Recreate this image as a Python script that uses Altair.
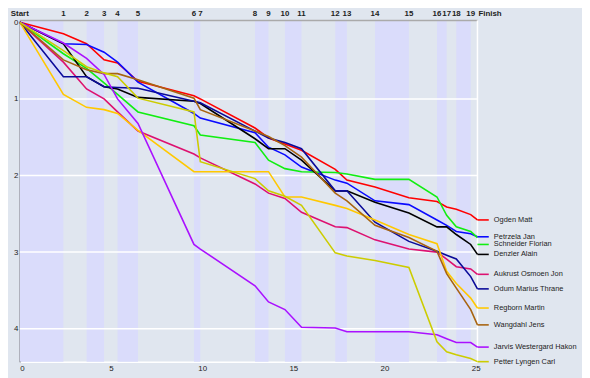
import altair as alt
import pandas as pd

# ---- data -------------------------------------------------------------
controls = ["Start", "1", "2", "3", "4", "5", "6", "7", "8", "9", "10",
            "11", "12", "13", "14", "15", "16", "17", "18", "19", "Finish"]
control_x = [0, 2.39, 3.66, 4.62, 5.36, 6.48, 9.55, 9.90, 12.90, 13.64, 14.54,
             15.45, 17.30, 17.94, 19.48, 21.34, 22.88, 23.41, 23.94, 24.73, 25.10]

runners = ["Ogden Matt", "Petrzela Jan", "Schneider Florian", "Denzler Alain",
           "Aukrust Osmoen Jon", "Odum Marius Thrane", "Regborn Martin",
           "Wangdahl Jens", "Jarvis Westergard Hakon", "Petter Lyngen Carl"]
colors = ["#ff0000", "#0a0aff", "#11ee11", "#000000", "#dd1170",
          "#0a0a99", "#ffc800", "#a86410", "#aa11ff", "#cccc00"]

ogden = [0, 0.15, 0.28, 0.49, 0.53, 0.77, 0.96, 1.00, 1.38, 1.51, 1.59,
         1.67, 1.92, 2.06, 2.15, 2.29, 2.34, 2.41, 2.44, 2.51, 2.58]
petrzela = [0, 0.28, 0.29, 0.39, 0.52, 0.78, 1.19, 1.25, 1.44, 1.63, 1.73,
            1.89, 2.06, 2.10, 2.33, 2.38, 2.58, 2.65, 2.73, 2.76, 2.80]
schneider = [0, 0.41, 0.60, 0.79, 0.94, 1.17, 1.35, 1.47, 1.57, 1.80, 1.91,
             1.95, 1.96, 1.98, 2.05, 2.05, 2.28, 2.52, 2.67, 2.73, 2.81]
denzler = [0, 0.28, 0.71, 0.84, 0.87, 0.98, 1.03, 1.06, 1.52, 1.65, 1.65,
           1.80, 2.20, 2.20, 2.35, 2.49, 2.67, 2.67, 2.77, 2.90, 3.03]
aukrust = [0, 0.52, 0.87, 1.00, 1.17, 1.42, 1.72, 1.77, 2.11, 2.23, 2.30,
           2.48, 2.67, 2.68, 2.84, 2.96, 3.00, 3.09, 3.19, 3.22, 3.29]
odum = [0, 0.71, 0.71, 0.84, 0.85, 0.86, 1.03, 1.05, 1.42, 1.51, 1.57,
        1.65, 2.20, 2.20, 2.61, 2.86, 2.99, 3.04, 3.09, 3.32, 3.48]
regborn = [0, 0.94, 1.11, 1.14, 1.19, 1.41, 1.95, 1.95, 1.95, 1.95, 2.28,
           2.28, 2.39, 2.43, 2.58, 2.77, 2.89, 3.25, 3.41, 3.60, 3.73]
wangdahl = [0, 0.49, 0.62, 0.67, 0.67, 0.75, 0.99, 1.14, 1.42, 1.49, 1.61,
            1.76, 2.23, 2.33, 2.65, 2.81, 2.99, 3.28, 3.47, 3.75, 3.95]
jarvis = [0, 0.27, 0.47, 0.68, 1.00, 1.32, 2.90, 2.96, 3.44, 3.65, 3.75,
          3.98, 3.99, 4.04, 4.04, 4.04, 4.08, 4.13, 4.18, 4.18, 4.24]
petter = [0, 0.37, 0.58, 0.66, 0.71, 0.99, 1.17, 1.82, 2.04, 2.20, 2.27,
          2.39, 3.01, 3.05, 3.11, 3.20, 4.17, 4.30, 4.34, 4.39, 4.43]

series = [ogden, petrzela, schneider, denzler, aukrust, odum, regborn,
          wangdahl, jarvis, petter]

y_ticks = [0, 1, 2, 3, 4]
x_ticks = [0, 5, 10, 15, 20, 25]

# ---- tables -----------------------------------------------------------
rows = []
for name, vals in zip(runners, series):
    for i, (cx, v) in enumerate(zip(control_x, vals)):
        rows.append({"runner": name, "x": cx, "t": v, "i": i})
lines_df = pd.DataFrame(rows)

bands_df = pd.DataFrame({
    "x": control_x[0:-1:2],
    "x2": control_x[1::2],
})

# label positions (push down to avoid overlaps)
finals = sorted([(vals[-1], name) for name, vals in zip(runners, series)])
lab_rows = []
prev = None
for v, name in finals:
    ly = v if prev is None else max(v, prev + 0.1)
    prev = ly
    lab_rows.append({"runner": name, "ly": ly})
labels_df = pd.DataFrame(lab_rows)
fin = control_x[-1]
labels_df["x1"] = fin
labels_df["x2"] = fin + 0.62
labels_df["xt"] = fin + 0.9

ctrl_df = pd.DataFrame({"x": control_x[:-1], "label": controls[:-1]})
finish_df = pd.DataFrame({"x": [control_x[-1]], "label": [controls[-1]]})
grid_df = pd.DataFrame({"t": y_ticks[1:]})

# ---- chart ------------------------------------------------------------
W, H = 464, 346
xs = alt.Scale(domain=[0, fin], nice=False, zero=False)
ys = alt.Scale(domain=[-0.025, 4.43], nice=False, zero=False, reverse=True)
cs = alt.Scale(domain=runners, range=colors)
FONT = "Liberation Sans"

bands = alt.Chart(bands_df).mark_rect(color="#dadcfb").encode(
    x=alt.X("x:Q", scale=xs,
            axis=alt.Axis(values=x_ticks, title=None, grid=False, ticks=False,
                          format="d",
                          domainColor="#ffffff", domainWidth=1.5,
                          labelFontSize=8, labelFont=FONT, labelColor="#222",
                          labelPadding=3)),
    x2="x2:Q",
    y=alt.value(0), y2=alt.value(H),
)

grid = alt.Chart(grid_df).mark_rule(color="#ffffff", strokeWidth=1.5).encode(
    y=alt.Y("t:Q", scale=ys,
            axis=alt.Axis(values=y_ticks, title=None, grid=False, ticks=False,
                          format="d",
                          domainColor="#555555", domainWidth=1.5,
                          labelFontSize=8, labelFont=FONT, labelColor="#222",
                          labelPadding=2)),
    x=alt.value(0), x2=alt.value(W),
)

top_line = alt.Chart(finish_df).mark_rule(color="#aaaaaa", strokeWidth=1.5).encode(
    x=alt.value(0), x2=alt.value(W), y=alt.value(0)
)
fin_line = alt.Chart(finish_df).mark_rule(color="#ffffff", strokeWidth=1.5).encode(
    x=alt.X("x:Q", scale=xs), y=alt.value(0), y2=alt.value(H)
)

lines = alt.Chart(lines_df).mark_line(strokeWidth=1.6).encode(
    x=alt.X("x:Q", scale=xs),
    y=alt.Y("t:Q", scale=ys),
    color=alt.Color("runner:N", scale=cs, legend=None),
    order="i:Q",
    detail="runner:N",
)

ticks = alt.Chart(labels_df).mark_rule(strokeWidth=1.6).encode(
    x=alt.X("x1:Q", scale=xs), x2="x2:Q",
    y=alt.Y("ly:Q", scale=ys),
    color=alt.Color("runner:N", scale=cs, legend=None),
)
texts = alt.Chart(labels_df).mark_text(
    align="left", baseline="middle", fontSize=7.5, font=FONT, color="#222222"
).encode(
    x=alt.X("xt:Q", scale=xs),
    y=alt.Y("ly:Q", scale=ys),
    text="runner:N",
)

ctrl_text = alt.Chart(ctrl_df).mark_text(
    align="center", baseline="middle", fontSize=8, font=FONT,
    fontWeight="bold", color="#222222"
).encode(x=alt.X("x:Q", scale=xs), y=alt.value(-6), text="label:N")
fin_text = alt.Chart(finish_df).mark_text(
    align="left", baseline="middle", fontSize=8, font=FONT,
    fontWeight="bold", color="#222222", dx=1
).encode(x=alt.X("x:Q", scale=xs), y=alt.value(-6), text="label:N")

chart = alt.layer(
    bands, grid, top_line, fin_line, lines, ticks, texts, ctrl_text, fin_text
).properties(
    width=W, height=H,
    autosize=alt.AutoSizeParams(type="none"),
    padding={"left": 12, "top": 10, "right": 106, "bottom": 14},
    background="#e0e6ef",
).configure_view(stroke=None)

chart.save("out.html", embed_options={"renderer": "svg", "actions": False})
